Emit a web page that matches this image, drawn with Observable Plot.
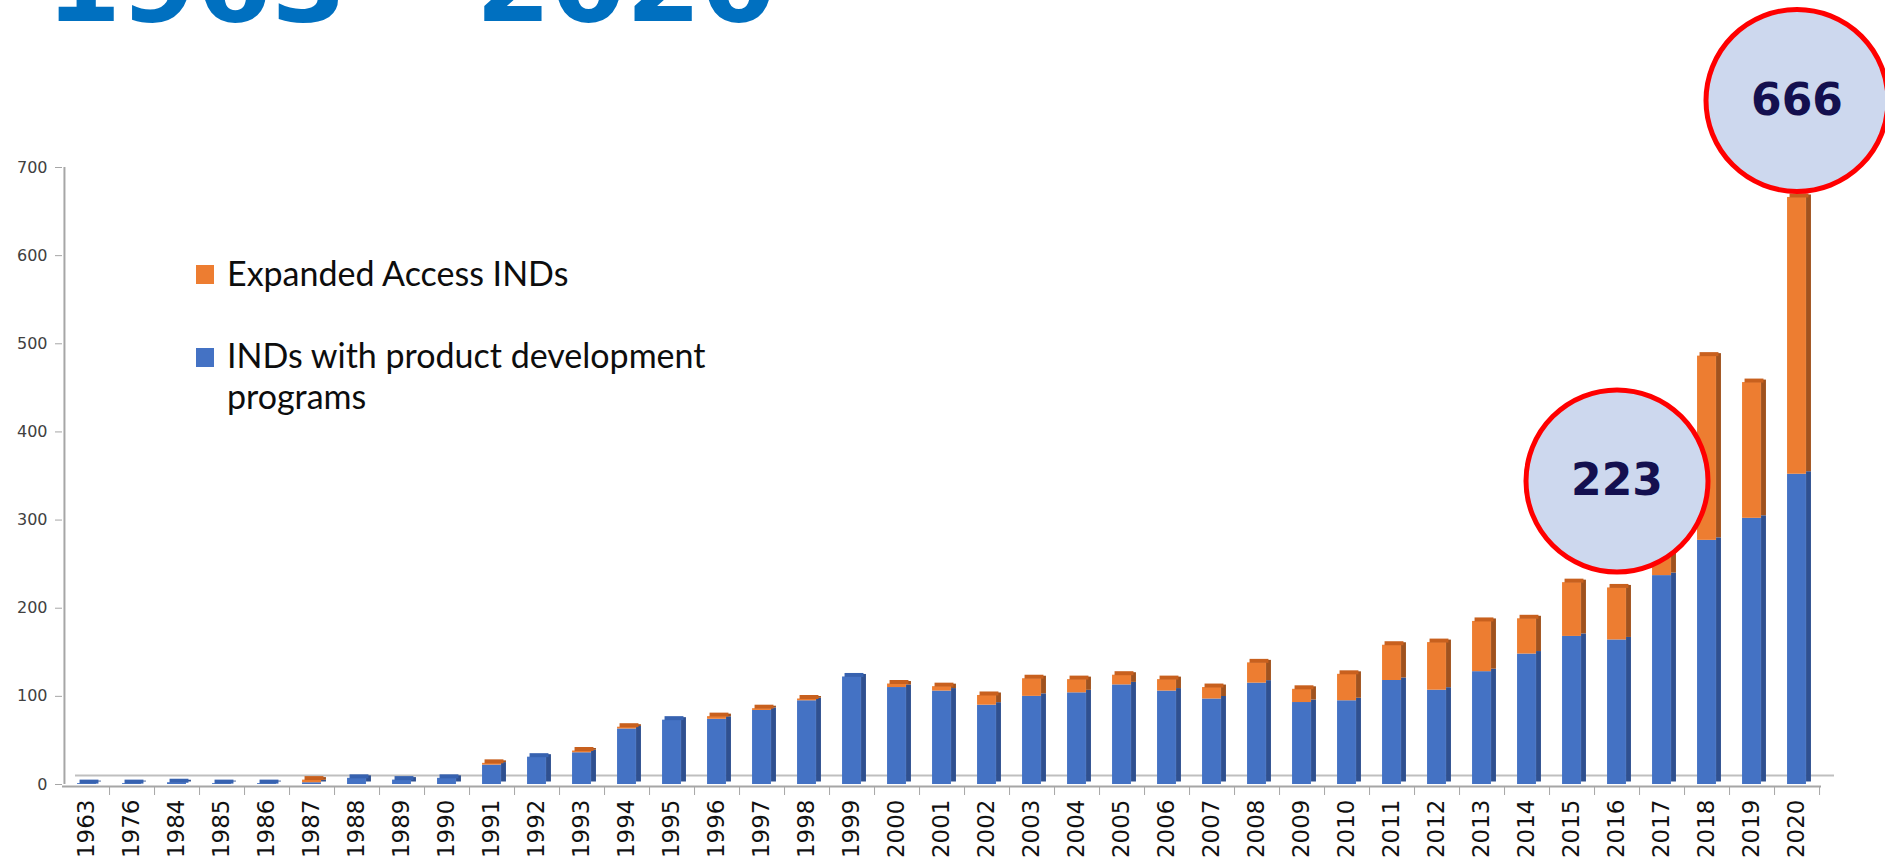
<!DOCTYPE html>
<html>
<head>
<meta charset="utf-8">
<script src="https://cdn.jsdelivr.net/npm/d3@7"></script>
<script src="https://cdn.jsdelivr.net/npm/@observablehq/plot@0.6"></script>
<style>
  html, body { margin: 0; padding: 0; background: #ffffff; }
  #wrap { position: relative; width: 1885px; height: 861px; overflow: hidden; background: #ffffff; }
  #title { position: absolute; left: 46px; top: -70px; font: bold 108px "DejaVu Sans"; line-height: 108px; color: #0070C0; white-space: pre; z-index: 2; }
  .lg-sq { position: absolute; width: 18px; height: 19px; }
  .lg-tx { position: absolute; font-family: Lato, "Open Sans", sans-serif; font-size: 34px; line-height: 41px; color: #0d0d0d; white-space: nowrap; z-index: 2; }
  #chart { position: absolute; left: 0; top: 0; }
</style>
</head>
<body>
<div id="wrap">
  <div id="title">1963 – 2020</div>
  <div id="chart"></div>
  <div class="lg-sq" style="left:196px; top:265px; background:#ED7D31"></div>
  <div class="lg-tx" style="left:227px; top:252px">Expanded Access INDs</div>
  <div class="lg-sq" style="left:196px; top:348px; background:#4472C4"></div>
  <div class="lg-tx" style="left:227px; top:334px">INDs with product development<br>programs</div>
</div>
<script>
const years = ["1963","1976","1984","1985","1986","1987","1988","1989","1990","1991",
  "1992","1993","1994","1995","1996","1997","1998","1999","2000","2001",
  "2002","2003","2004","2005","2006","2007","2008","2009","2010","2011",
  "2012","2013","2014","2015","2016","2017","2018","2019","2020"];
const productDevINDs = [1,1,2,1,1,2,7,5,7,22,
  31,36,63,73,74,84,95,122,110,106,
  90,100,104,113,106,97,115,93,95,118,
  107,128,148,168,164,237,277,302,352];
const expandedAccessINDs = [0,0,0,0,0,3,0,0,0,2,
  0,2,2,0,3,2,2,0,4,5,
  11,20,15,11,13,13,23,15,30,40,
  54,57,40,61,59,33,209,154,314];
const callouts = ["2016","2020"];
const yTicks = [0,100,200,300,400,500,600,700];

const rows = years.map((year, i) => ({
  year,
  ind: productDevINDs[i],
  ea: expandedAccessINDs[i],
  total: productDevINDs[i] + expandedAccessINDs[i]
}));

const W = 1885, H = 861, mL = 62, mR = 64, mT = 167, mB = 77;
const step = (W - mL - mR) / years.length;
const frontW = 19, sideW = 5, depth = 5;
const inF = (step - frontW) / 2;

const blue = "#4472C4", blueSide = "#2F5090", blueTop = "#3762B0";
const orange = "#ED7D31", orangeSide = "#A0521E", orangeTop = "#C8601E";
const grey = "#A6A6A6";

const chart = Plot.plot({
  width: W, height: H,
  marginLeft: mL, marginRight: mR, marginTop: mT, marginBottom: mB,
  style: {fontFamily: "DejaVu Sans", background: "transparent", overflow: "visible"},
  x: {domain: years, padding: 0, label: null},
  y: {domain: [0, 700], label: null},
  marks: [
    // 3D floor edges
    Plot.ruleY([0], {dy: -9, dx: 13, stroke: "#BFBFBF", strokeWidth: 2}),
    Plot.ruleY([0], {dy: 2, stroke: grey, strokeWidth: 2}),
    // value axis line
    Plot.ruleX([years[0]], {dx: -step / 2, y1: 0, y2: 700, stroke: grey, strokeWidth: 2}),
    Plot.axisY(yTicks, {tickSize: 7, tickPadding: 8, fontSize: 16, stroke: grey, fill: "#404040", label: null}),
    // category boundary ticks
    Plot.axisX({tickSize: 9, dx: step / 2, dy: 2, tickFormat: () => "", stroke: grey, label: null}),
    // category labels
    Plot.axisX({tickSize: 0, tickRotate: -90, tickPadding: 15, fontSize: 23, fill: "#111", label: null}),
    // side faces
    Plot.barY(rows, {x: "year", y1: 0, y2: "ind", fill: blueSide, dy: -depth / 2,
      insetLeft: inF + frontW, insetRight: step - inF - frontW - sideW}),
    Plot.barY(rows, {filter: d => d.ea > 0, x: "year", y1: "ind", y2: "total", fill: orangeSide, dy: -depth / 2,
      insetLeft: inF + frontW, insetRight: step - inF - frontW - sideW}),
    // front faces
    Plot.barY(rows, {x: "year", y1: 0, y2: "ind", fill: blue, insetLeft: inF, insetRight: inF}),
    Plot.barY(rows, {filter: d => d.ea > 0, x: "year", y1: "ind", y2: "total", fill: orange, insetLeft: inF, insetRight: inF}),
    // top faces
    Plot.tickY(rows, {filter: d => d.ea === 0, x: "year", y: "total", stroke: blueTop, strokeWidth: depth - 1,
      dy: -(depth - 1) / 2, dx: depth / 2, insetLeft: inF, insetRight: inF}),
    Plot.tickY(rows, {filter: d => d.ea > 0, x: "year", y: "total", stroke: orangeTop, strokeWidth: depth - 1,
      dy: -(depth - 1) / 2, dx: depth / 2, insetLeft: inF, insetRight: inF}),
    // callout circles
    Plot.dot(rows, {filter: d => d.year === callouts[0], x: "year", y: "total", r: 91, dy: -107,
      fill: "#CDD8EE", stroke: "#FF0000", strokeWidth: 5}),
    Plot.text(rows, {filter: d => d.year === callouts[0], x: "year", y: "total", dy: -107,
      text: d => String(d.total), fontSize: 44, fontWeight: "bold", fill: "#14104F"}),
    Plot.dot(rows, {filter: d => d.year === callouts[1], x: "year", y: "total", r: 91, dy: -97,
      fill: "#CDD8EE", stroke: "#FF0000", strokeWidth: 5}),
    Plot.text(rows, {filter: d => d.year === callouts[1], x: "year", y: "total", dy: -97,
      text: d => String(d.total), fontSize: 44, fontWeight: "bold", fill: "#14104F"})
  ]
});
document.getElementById("chart").appendChild(chart);
</script>
</body>
</html>
